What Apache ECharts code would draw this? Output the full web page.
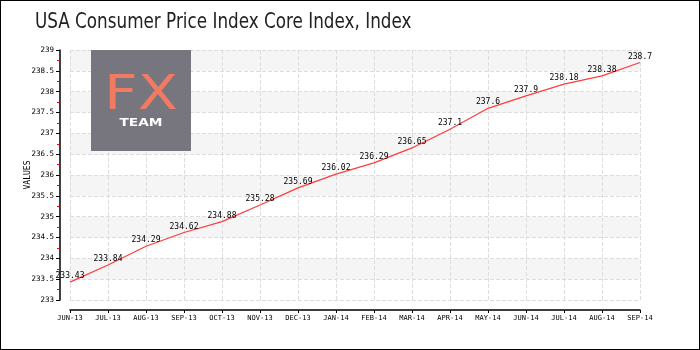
<!DOCTYPE html>
<html><head><meta charset="utf-8">
<script src="https://cdn.jsdelivr.net/npm/echarts@6/dist/echarts.min.js"></script>
<style>html,body{margin:0;padding:0;background:#fff}#c{width:698px;height:348px;border:1px solid #000}</style>
</head><body><div id="c"></div>
<script>
const categories = ["JUN-13","JUL-13","AUG-13","SEP-13","OCT-13","NOV-13","DEC-13","JAN-14","FEB-14","MAR-14","APR-14","MAY-14","JUN-14","JUL-14","AUG-14","SEP-14"];
const values = [233.43,233.84,234.29,234.62,234.88,235.28,235.69,236.02,236.29,236.65,237.1,237.6,237.9,238.18,238.38,238.7];
const yMin = 233, yMax = 239, yStep = 0.5;
const titleText = "USA Consumer Price Index Core Index, Index";
const px = "'DejaVu Sans Mono', monospace";
const chart = echarts.init(document.getElementById('c'));
chart.setOption({
  animation:false,
  grid:{left:69,right:59,top:49,bottom:49},
  graphic:[
    {type:'text',x:34,y:22,scaleX:0.8,z:20,style:{x:0,y:0,text:titleText,fontSize:21,fontFamily:"'DejaVu Sans',sans-serif",fill:'#222',verticalAlign:'middle',align:'left'}},
    {type:'rect',z:20,shape:{x:90,y:49,width:100,height:101},style:{fill:'#77767e'}},
    {type:'text',z:21,x:140,y:96,scaleX:1.22,style:{x:0,y:0,text:'FX',fontSize:48,fontFamily:"'DejaVu Sans', sans-serif",fill:'#f07a62',align:'center',verticalAlign:'middle'}},
    {type:'text',z:21,x:140,y:122,scaleX:1.25,style:{x:0,y:0,text:'TEAM',fontSize:11,fontWeight:'bold',fontFamily:"'DejaVu Sans', sans-serif",fill:'#ffffff',align:'center',verticalAlign:'middle'}}
  ],
  xAxis:{type:'category',data:categories,boundaryGap:false,offset:10,
    axisLine:{lineStyle:{color:'#000',width:1.5}},
    axisTick:{show:true,length:3,lineStyle:{color:'#000'}},
    axisLabel:{fontFamily:px,fontSize:7,color:'#000',margin:5,interval:0},
    splitLine:{show:true,lineStyle:{color:'#ddd',type:'dashed'}}},
  yAxis:{type:'value',min:yMin,max:yMax,interval:yStep,offset:10,name:'VALUES',nameLocation:'middle',nameGap:28,nameMoveOverlap:false,
    nameTextStyle:{fontFamily:px,fontSize:8,color:'#000'},
    axisLine:{show:true,lineStyle:{color:'#000',width:1.5}},
    axisTick:{show:true,length:4,lineStyle:{color:'#000'}},
    minorTick:{show:true,splitNumber:2,length:3,lineStyle:{color:'#e00'}},
    axisLabel:{fontFamily:px,fontSize:7.5,color:'#000',margin:6},
    splitLine:{show:true,lineStyle:{color:'#ddd',type:'dashed'}},
    splitArea:{show:true,areaStyle:{color:['#ffffff','#f5f5f5']}}},
  series:[{type:'line',data:values,symbol:'circle',symbolSize:0,showSymbol:true,smooth:false,z:30,
    itemStyle:{color:'rgba(0,0,0,0)'},
    lineStyle:{color:'#ff3b3b',width:1.2},
    label:{show:true,position:'top',distance:2,fontFamily:px,fontSize:8,color:'#000'}}]
});
</script></body></html>
